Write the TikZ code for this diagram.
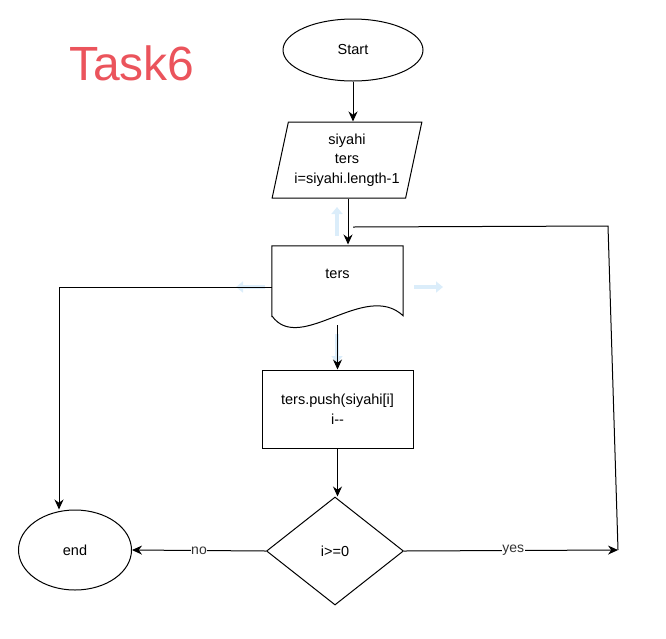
\documentclass[tikz,border=0pt]{standalone}
\usepackage{fontspec}
\setmainfont{Liberation Sans}
\usetikzlibrary{shapes.geometric,arrows.meta}
\definecolor{c0}{rgb}{0.92,0.33,0.36}
\definecolor{c1}{rgb}{0.86,0.93,0.98}
\definecolor{c2}{rgb}{0.2,0.2,0.2}
\tikzset{%
  blk/.style={draw,line width=1pt,inner sep=0pt,align=center,font=\fontsize{14.5}{19.5}\selectfont},
  oval/.style={blk,ellipse},
  arr/.style={line width=1pt,-{Stealth[length=10pt,width=9pt]}},
  lbl/.style={fill=white,inner sep=0.5pt,text=c2,font=\fontsize{14}{16}\selectfont},
  hover/.style={c1,line width=4pt,-{Triangle[length=7pt,width=11pt]}}
}
\begin{document}
\begin{tikzpicture}[x=1pt,y=-1pt]
  \useasboundingbox (0,0) rectangle (666,638);
  %
  \node[text=c0,anchor=base west,inner sep=0pt,font=\fontsize{48}{52}\selectfont] (title) at (69,80) {Task6};
  %
  \node[oval,minimum width=140pt,minimum height=62pt] (start) at (353,50) {Start};
  \node[blk,trapezium,trapezium left angle=74.5,trapezium right angle=105.5,trapezium stretches=true,
    minimum width=150pt,minimum height=76pt] (inp) at (347,160) {siyahi\\ters\\i=siyahi.length-1};
  \node[inner sep=0pt,minimum width=131pt,minimum height=82pt,font=\fontsize{14.5}{19.5}\selectfont,
    text depth=0pt] (ters) at (337.5,287) {};
  \draw[line width=1pt] (ters.south west) ++(0,-12) -- (ters.north west) -- (ters.north east) -- ++(0,70)
    .. controls (365,280) and (300,355) .. (272,316) -- cycle;
  \node[font=\fontsize{14.5}{19.5}\selectfont] (terstxt) at (337.5,274) {ters};
  \node[blk,minimum width=151pt,minimum height=78pt] (push) at (337.5,409) {ters.push(siyahi[i]\\i{-}{-}};
  \node[blk,diamond,minimum width=137pt,minimum height=108pt] (dec) at (335,551) {i>=0};
  \node[oval,minimum width=113pt,minimum height=80pt] (end) at (75,550) {end};
  %
  \coordinate (loopb) at (618,550);
  \coordinate (loopt) at (608,226);
  \coordinate (loopl) at (353,227);
  %% hover arrows
  \draw[hover] (337,236) -- (337,207);
  \draw[hover] (265,287) -- (236,287);
  \draw[hover] (414,287) -- (443,287);
  \draw[hover] (337,334) -- (337,363);
  %% connectors
  \draw[arr] (start.south) -- (start.south |- inp.north);
  \draw[arr] (inp.south) ++(1,0) -- ++(0,46);
  \draw[arr] (ters.west) -| ([xshift=-16pt]end.north);
  \draw[arr] (ters.south) ++(0,-3) -- (push.north);
  \draw[arr] (push.south) -- (push.south |- dec.north);
  \draw[arr] (dec.west) -- node[lbl,pos=0.5]{no} (end.east);
  \draw[arr] (dec.east) -- node[lbl,pos=0.51]{yes} (loopb);
  \draw[line width=1pt] (loopb) -- (loopt) -- (loopl);
  %%
\end{tikzpicture}
\end{document}
